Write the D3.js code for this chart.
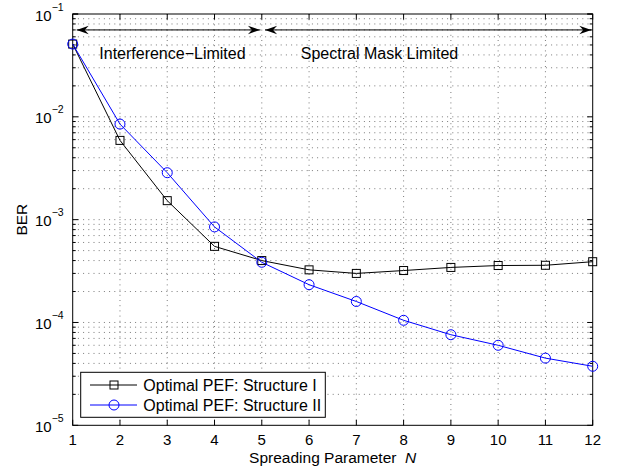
<!DOCTYPE html>
<html>
<head>
<meta charset="utf-8">
<script src="https://cdn.jsdelivr.net/npm/d3@7"></script>
<style>
  body { margin: 0; background: #fff; }
  text { font-family: "Liberation Sans", Arial, Helvetica, sans-serif; fill: #000; }
</style>
</head>
<body>
<svg id="chart" width="617" height="470"></svg>
<script>
// Data
let spreading_n = [1, 2, 3, 4, 5, 6, 7, 8, 9, 10, 11, 12];
let ber_structure_1 = [0.051, 5.9e-3, 1.53e-3, 5.5e-4, 4.0e-4, 3.25e-4, 3.0e-4, 3.2e-4, 3.43e-4, 3.58e-4, 3.6e-4, 3.9e-4];
let ber_structure_2 = [0.051, 8.5e-3, 2.86e-3, 8.5e-4, 3.85e-4, 2.33e-4, 1.6e-4, 1.05e-4, 7.6e-5, 6.0e-5, 4.5e-5, 3.75e-5];
let series_names = ['Optimal PEF: Structure I', 'Optimal PEF: Structure II'];
let x_ticks = [1, 2, 3, 4, 5, 6, 7, 8, 9, 10, 11, 12];
let y_decades = [-5, -4, -3, -2, -1];

// Region annotations: [x start, x end] at one BER level, and label positions
let region_arrows = [[1.085, 4.96], [5.07, 11.97]];
let arrow_level = 0.07;
let region_labels = ['Interference\u2212Limited', 'Spectral Mask Limited'];
let region_label_x = [3.11, 7.49];
let region_label_level = 0.0363;

let LEFT = 72.7;
let RIGHT = 592.7;
let TOP = 14;
let BOTTOM = 425.3;

let svg = d3.select('#chart');

let xScale = d3.scaleLinear().domain([1, 12]).range([LEFT, RIGHT]);
let yScale = d3.scaleLog().domain([1e-5, 1e-1]).range([BOTTOM, TOP]);

// all log ticks (major + minor) inside the domain
let y_all_ticks = [];
y_decades.forEach(function(d) {
    for (let m = 1; m < 10; m++) {
        let v = m * Math.pow(10, d);
        if (v <= 0.1 * 1.0001) y_all_ticks.push(v);
    }
});
y_all_ticks.push(0.1);

// Grid lines (dotted, matlab style)
let grid = svg.append('g').attr('id', 'grid')
    .attr('stroke', '#222')
    .attr('stroke-width', 0.6)
    .attr('stroke-dasharray', '1,4.2');

grid.selectAll('.vgrid')
    .data(x_ticks.filter(d => d > 1 && d < 12))
    .join('line')
    .attr('x1', d => xScale(d))
    .attr('x2', d => xScale(d))
    .attr('y1', TOP)
    .attr('y2', BOTTOM);

grid.selectAll('.hgrid')
    .data(y_all_ticks.filter(d => d > 1.0001e-5 && d < 0.0999))
    .join('line')
    .attr('x1', LEFT)
    .attr('x2', RIGHT)
    .attr('y1', d => yScale(d))
    .attr('y2', d => yScale(d));

// Tick marks on all four sides, pointing inward
let ticks = svg.append('g').attr('stroke', '#000').attr('stroke-width', 1);
let isMajor = v => Math.abs(Math.log10(v) - Math.round(Math.log10(v))) < 1e-6;

ticks.selectAll('.yl')
    .data(y_all_ticks)
    .join('line')
    .attr('x1', LEFT).attr('x2', d => LEFT + (isMajor(d) ? 5.5 : 3))
    .attr('y1', d => yScale(d)).attr('y2', d => yScale(d));
ticks.selectAll('.yr')
    .data(y_all_ticks)
    .join('line')
    .attr('class', 'yr')
    .attr('x1', RIGHT).attr('x2', d => RIGHT - (isMajor(d) ? 5.5 : 3))
    .attr('y1', d => yScale(d)).attr('y2', d => yScale(d));
ticks.selectAll('.xb')
    .data(x_ticks)
    .join('line')
    .attr('class', 'xb')
    .attr('x1', d => xScale(d)).attr('x2', d => xScale(d))
    .attr('y1', BOTTOM).attr('y2', BOTTOM - 5.5);
ticks.selectAll('.xt')
    .data(x_ticks)
    .join('line')
    .attr('class', 'xt')
    .attr('x1', d => xScale(d)).attr('x2', d => xScale(d))
    .attr('y1', TOP).attr('y2', TOP + 5.5);

// Axes box
svg.append('rect')
    .attr('x', LEFT).attr('y', TOP)
    .attr('width', RIGHT - LEFT).attr('height', BOTTOM - TOP)
    .attr('fill', 'none').attr('stroke', '#000').attr('stroke-width', 1);

// X tick labels
svg.append('g').selectAll('text')
    .data(x_ticks)
    .join('text')
    .attr('x', d => xScale(d))
    .attr('y', BOTTOM + 20)
    .attr('text-anchor', 'middle')
    .style('font-size', '15px')
    .text(d => d);

// Y tick labels 10^k
let ylab = svg.append('g').selectAll('text')
    .data(y_decades)
    .join('text')
    .attr('x', LEFT - 9)
    .attr('y', d => yScale(Math.pow(10, d)) + 6.5)
    .attr('text-anchor', 'end')
    .style('font-size', '15px');
ylab.append('tspan').text('10');
ylab.append('tspan')
    .attr('dy', -10)
    .style('font-size', '10.5px')
    .text(d => '\u2212' + Math.abs(d));

// Axis labels
svg.append('text')
    .attr('x', (LEFT + RIGHT) / 2)
    .attr('y', 463)
    .attr('text-anchor', 'middle')
    .style('font-size', '15.5px')
    .html('Spreading Parameter\u00a0\u00a0<tspan font-style="italic">N</tspan>');

svg.append('text')
    .attr('transform', `translate(27, ${(TOP + BOTTOM) / 2}) rotate(-90)`)
    .attr('text-anchor', 'middle')
    .style('font-size', '15.5px')
    .text('BER');

// Series lines and markers
let line = d3.line()
    .x((d, i) => xScale(spreading_n[i]))
    .y(d => yScale(d));

svg.append('path')
    .datum(ber_structure_1)
    .attr('d', line)
    .attr('fill', 'none').attr('stroke', '#000').attr('stroke-width', 1);

svg.append('path')
    .datum(ber_structure_2)
    .attr('d', line)
    .attr('fill', 'none').attr('stroke', '#0000ff').attr('stroke-width', 1);

svg.append('g').selectAll('rect')
    .data(ber_structure_1)
    .join('rect')
    .attr('x', (d, i) => xScale(spreading_n[i]) - 4)
    .attr('y', d => yScale(d) - 4)
    .attr('width', 8).attr('height', 8)
    .attr('fill', 'none').attr('stroke', '#000').attr('stroke-width', 1);

svg.append('g').selectAll('circle')
    .data(ber_structure_2)
    .join('circle')
    .attr('cx', (d, i) => xScale(spreading_n[i]))
    .attr('cy', d => yScale(d))
    .attr('r', 5)
    .attr('fill', 'none').attr('stroke', '#0000ff').attr('stroke-width', 1);

// Region arrows (double headed)
function arrowHead(x, y, dir) {
    let L = 12, W = 4.2, N = 4;
    return `M${x},${y} L${x - dir * L},${y - W} L${x - dir * (L - N)},${y} L${x - dir * L},${y + W} Z`;
}
let ay = yScale(arrow_level);
let arrows = svg.append('g');
region_arrows.forEach(function(r) {
    let x0 = xScale(r[0]), x1 = xScale(r[1]);
    arrows.append('line')
        .attr('x1', x0).attr('x2', x1).attr('y1', ay).attr('y2', ay)
        .attr('stroke', '#000').attr('stroke-width', 1);
    arrows.append('path').attr('d', arrowHead(x0, ay, -1)).attr('fill', '#000');
    arrows.append('path').attr('d', arrowHead(x1, ay, 1)).attr('fill', '#000');
});

svg.append('g').selectAll('text')
    .data(region_labels)
    .join('text')
    .attr('x', (d, i) => xScale(region_label_x[i]))
    .attr('y', yScale(region_label_level))
    .attr('text-anchor', 'middle')
    .style('font-size', '16px')
    .text(d => d);

// Legend
let legend = svg.append('g');
legend.append('rect')
    .attr('x', 80.7).attr('y', 372.3)
    .attr('width', 244.6).attr('height', 45)
    .attr('fill', '#fff').attr('stroke', '#000').attr('stroke-width', 1);

let legend_colors = ['#000', '#0000ff'];
series_names.forEach(function(name, i) {
    let cy = 385 + i * 20;
    legend.append('line')
        .attr('x1', 90).attr('x2', 137).attr('y1', cy).attr('y2', cy)
        .attr('stroke', legend_colors[i]).attr('stroke-width', 1);
    if (i == 0) {
        legend.append('rect')
            .attr('x', 110).attr('y', cy - 4).attr('width', 8).attr('height', 8)
            .attr('fill', 'none').attr('stroke', legend_colors[i]);
    } else {
        legend.append('circle')
            .attr('cx', 114).attr('cy', cy).attr('r', 5)
            .attr('fill', 'none').attr('stroke', legend_colors[i]);
    }
    legend.append('text')
        .attr('x', 143.3).attr('y', cy + 5.5)
        .style('font-size', '16px')
        .text(name);
});
</script>
</body>
</html>
